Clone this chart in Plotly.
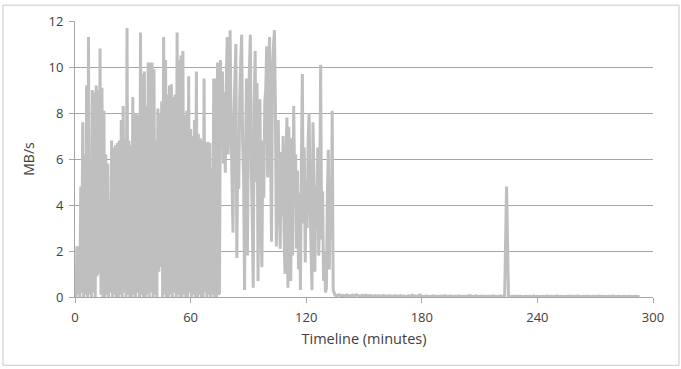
import numpy as np
import plotly.graph_objects as go

# ---- data (MB/s over time in minutes) ----
# Segment A: 0 .. 75 min, every 0.5 min (dense transfer phase)
minutes_a = np.arange(0, 75.01, 0.5)
rate_a = [
    0.0, 0.0, 2.2, 0.1, 2.2, 0.0, 4.8, 0.2, 7.6, 0.0,
    6.2, 0.1, 9.2, 0.0, 11.3, 0.1, 6.0, 0.0, 9.0, 0.2,
    8.9, 0.0, 9.2, 0.9, 9.0, 1.0, 10.8, 0.1, 9.1, 0.0,
    8.1, 0.0, 6.2, 0.1, 5.8, 0.0, 4.2, 0.2, 6.8, 0.0,
    6.5, 0.1, 6.6, 0.0, 6.7, 0.0, 6.8, 0.1, 7.7, 0.0,
    8.3, 0.2, 6.9, 0.0, 11.7, 0.1, 6.8, 0.0, 6.6, 0.0,
    8.7, 0.1, 8.0, 0.0, 8.0, 0.2, 7.9, 0.0, 11.5, 0.1,
    9.7, 0.0, 9.8, 0.0, 8.3, 0.1, 10.2, 0.0, 10.2, 0.2,
    10.2, 0.0, 9.9, 0.1, 6.8, 0.0, 8.2, 1.1, 8.0, 1.3,
    8.5, 0.0, 11.3, 0.1, 10.3, 0.0, 8.8, 0.0, 9.2, 0.1,
    9.25, 0.0, 8.7, 0.2, 8.8, 0.0, 11.5, 0.1, 10.3, 0.0,
    10.5, 0.0, 10.7, 0.1, 7.9, 0.0, 8.1, 0.0, 9.6, 0.2,
    7.3, 0.0, 7.0, 0.1, 7.7, 0.0, 9.8, 0.0, 7.1, 0.1,
    6.9, 0.0, 6.8, 0.0, 9.5, 0.2, 6.7, 0.0, 6.75, 0.1,
    6.7, 0.0, 5.6, 0.1, 9.5, 0.0, 9.5, 0.0, 10.2, 0.1,
    0.2,
]

# Segment B: 75.5 .. 134 min, every 0.5 min (bursty phase)
minutes_b = np.arange(75.5, 134.01, 0.5)
rate_b = [
    10.3, 6.5, 9.8, 5.8, 8.9, 5.4, 9.2, 11.3, 6.2, 9.0,
    11.6, 7.5, 5.0, 2.8, 7.8, 9.5, 11.0, 1.7, 6.5, 4.7,
    8.6, 10.2, 11.4, 6.8, 5.2, 0.3, 6.0, 9.5, 1.8, 8.0,
    9.8, 11.4, 5.5, 3.5, 0.4, 8.2, 10.7, 5.0, 9.3, 0.7,
    6.1, 8.6, 3.0, 1.3, 6.8, 4.3, 8.5, 9.0, 10.9, 5.2,
    9.6, 11.3, 6.4, 2.4, 9.8, 10.9, 11.6, 8.5, 2.2, 5.5,
    7.7, 4.0, 2.1, 6.3, 3.5, 7.0, 2.8, 1.0, 6.0, 7.8,
    0.4, 7.4, 2.5, 0.7, 6.9, 1.8, 8.3, 5.0, 6.2, 2.1,
    5.5, 1.2, 4.5, 0.3, 5.8, 9.7, 3.2, 6.5, 1.5, 5.0,
    3.0, 6.8, 8.0, 4.5, 2.0, 0.3, 7.6, 5.4, 1.1, 4.8,
    3.0, 6.5, 1.8, 4.2, 10.1, 2.5, 4.6, 0.7, 2.0, 0.2,
    0.4, 4.5, 6.4, 1.2, 5.0, 2.5, 8.1, 0.3,
]

# Segment C: 135 .. 293 min, every 1 min (idle phase)
minutes_c = np.arange(135, 293.01, 1.0)
rate_c = [
    0.08, 0.06, 0.1, 0.05, 0.07, 0.04, 0.09, 0.06, 0.05, 0.08,
    0.05, 0.1, 0.06, 0.04, 0.07, 0.05, 0.08, 0.04, 0.06, 0.05,
    0.03, 0.06, 0.04, 0.05, 0.03, 0.07, 0.04, 0.03, 0.05, 0.04,
    0.03, 0.05, 0.04, 0.03, 0.06, 0.03, 0.04, 0.02, 0.05, 0.03,
    0.08, 0.04, 0.03, 0.05, 0.09, 0.03, 0.02, 0.04, 0.03, 0.02,
    0.03, 0.05, 0.02, 0.03, 0.02, 0.04, 0.03, 0.06, 0.02, 0.03,
    0.04, 0.02, 0.03, 0.02, 0.05, 0.03, 0.02, 0.03, 0.02, 0.04,
    0.06, 0.03, 0.02, 0.05, 0.03, 0.02, 0.04, 0.02, 0.03, 0.02,
    0.03, 0.02, 0.05, 0.03, 0.02, 0.03, 0.04, 0.02, 0.06, 4.8,
    0.04, 0.02, 0.03, 0.02, 0.03, 0.02, 0.04, 0.02, 0.02, 0.03,
    0.02, 0.03, 0.02, 0.05, 0.02, 0.03, 0.02, 0.02, 0.03, 0.02,
    0.04, 0.02, 0.03, 0.02, 0.02, 0.05, 0.02, 0.03, 0.02, 0.02,
    0.03, 0.02, 0.04, 0.02, 0.03, 0.02, 0.05, 0.02, 0.02, 0.03,
    0.02, 0.04, 0.02, 0.02, 0.03, 0.02, 0.02, 0.04, 0.02, 0.03,
    0.02, 0.02, 0.03, 0.02, 0.04, 0.02, 0.02, 0.03, 0.02, 0.02,
    0.03, 0.02, 0.02, 0.03, 0.02, 0.02, 0.03, 0.02, 0.02,
]

x_ticks = [0, 60, 120, 180, 240, 300]
y_ticks = [0, 2, 4, 6, 8, 10, 12]

minutes = np.concatenate([minutes_a, minutes_b, minutes_c])
rate = np.array(rate_a + rate_b + rate_c)

FONT = "Open Sans"
TXT = "#404040"
GRID = "#a6a6a6"

fig = go.Figure()
fig.add_trace(go.Scatter(
    x=minutes, y=rate, mode="lines",
    line=dict(color="#bfbfbf", width=3, simplify=False),
    hoverinfo="skip", showlegend=False,
))

W, H = 681, 369
L, R, T, B = 75, 28, 18, 72
pw, ph = W - L - R, H - T - B

fig.update_layout(
    width=W, height=H,
    margin=dict(l=L, r=R, t=T, b=B, pad=0),
    paper_bgcolor="white", plot_bgcolor="white",
    font=dict(family=FONT, size=13, color=TXT),
    showlegend=False,
    xaxis=dict(
        range=[0, 300], tickvals=x_ticks, ticktext=[str(v) for v in x_ticks],
        showgrid=False, zeroline=False,
        showline=True, linecolor=GRID, linewidth=1,
        ticks="outside", ticklen=5, tickcolor=GRID,
        tickfont=dict(size=13, color=TXT),
        ticklabelstandoff=3,
        title=dict(text="Timeline (minutes)", font=dict(size=14.5, color=TXT), standoff=9),
    ),
    yaxis=dict(
        range=[0, 12], tickvals=y_ticks, ticktext=[str(v) for v in y_ticks],
        showgrid=True, gridcolor=GRID, gridwidth=1, zeroline=False,
        showline=True, linecolor=GRID, linewidth=1,
        ticks="outside", ticklen=5, tickcolor=GRID,
        tickfont=dict(size=13, color=TXT),
        ticklabelstandoff=3,
        title=dict(text="MB/s", font=dict(size=14, color=TXT), standoff=10),
    ),
    shapes=[dict(
        type="rect", xref="paper", yref="paper", layer="below",
        x0=(3 - L) / pw, x1=(679 - L) / pw,
        y0=-(366 - (T + ph)) / ph, y1=(T + ph - 2) / ph,
        line=dict(color="#c8c8c8", width=1), fillcolor="rgba(0,0,0,0)",
    )],
)

fig.write_html("out.html")
